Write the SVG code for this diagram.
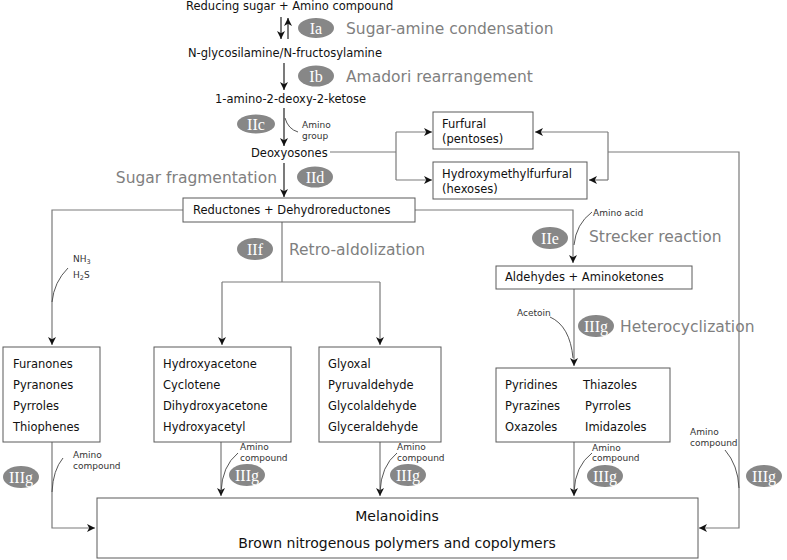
<svg xmlns="http://www.w3.org/2000/svg" width="787" height="560" viewBox="0 0 787 560">
<style>
text{font-family:"DejaVu Sans","Liberation Sans",sans-serif;fill:#111}
.t{font-size:11.5px}
.s{font-size:9px;fill:#333}
.g{font-size:15.5px;fill:#7f7f7f}
.m{font-size:14px}
.b{fill:#fff;stroke:#5a5a5a;stroke-width:1}
.e{fill:#878787}
.et{font-family:"Liberation Serif","DejaVu Serif",serif;font-size:16px;fill:#fff;text-anchor:middle}
.c{fill:none;stroke:#7a7a7a;stroke-width:1.2}
.a{marker-end:url(#ah)}
.k{fill:none;stroke:#444;stroke-width:0.9}
.dk{fill:none;stroke:#222;stroke-width:1.2}
</style>
<defs>
<marker id="ah" markerUnits="userSpaceOnUse" markerWidth="10" markerHeight="8" refX="8" refY="4" orient="auto">
<path d="M0,0 L8,4 L0,8 L2.2,4 z" fill="#111"/>
</marker>
</defs>

<g id="connectors">
<path class="dk a" d="M281,17 V39"/>
<path class="dk a" d="M288,39 V18"/>
<path class="dk a" d="M284,63 V90"/>
<path class="dk a" d="M284,108 V146"/>
<path class="k" d="M285,118 Q288,129 298,132"/>
<path class="dk a" d="M284,163 V197"/>
<path class="c" d="M330,152 H396"/>
<path class="c" d="M396,132 V180"/>
<path class="c a" d="M396,132 H432"/>
<path class="c a" d="M396,180 H432"/>
<path class="c" d="M608,132 V180"/>
<path class="c a" d="M608,132 H535"/>
<path class="c a" d="M608,180 H589"/>
<path class="c a" d="M608,152 H739 V528 H699"/>
<path class="c a" d="M183,210 H52 V345"/>
<path class="k" d="M68,268 Q54,282 52,302"/>
<path class="c a" d="M415,210 H573 V263"/>
<path class="k" d="M592,212 Q576,224 574,245"/>
<path class="c" d="M282,222 V282"/>
<path class="c" d="M222,282 H380"/>
<path class="c a" d="M222,282 V345"/>
<path class="c a" d="M380,282 V345"/>
<path class="c a" d="M574,289 V366"/>
<path class="k" d="M550,317 Q570,326 573,358"/>
<path class="c a" d="M52,442 V528 H95"/>
<path class="k" d="M63,458 Q53,470 52,492"/>
<path class="c a" d="M221,442 V496"/>
<path class="k" d="M238,453 Q222,466 221,492"/>
<path class="c a" d="M380,442 V496"/>
<path class="k" d="M397,453 Q381,466 380,492"/>
<path class="c a" d="M574,442 V496"/>
<path class="k" d="M592,453 Q575,466 574,492"/>
<path class="k" d="M725,450 Q738,465 739,488"/>
</g>

<g id="reactants"><text class="t" x="186" y="10">Reducing sugar + Amino compound</text></g>
<g id="step-Ia"><ellipse class="e" cx="316" cy="28" rx="18" ry="10"/><text class="et" x="316" y="33.5">Ia</text><text class="g" x="346" y="33.5">Sugar-amine condensation</text></g>
<g id="glycosylamine"><text class="t" x="188" y="57">N-glycosilamine/N-fructosylamine</text></g>
<g id="step-Ib"><ellipse class="e" cx="316" cy="76" rx="18" ry="10.5"/><text class="et" x="316" y="81.5">Ib</text><text class="g" x="346" y="81.5">Amadori rearrangement</text></g>
<g id="ketose"><text class="t" x="215" y="103">1-amino-2-deoxy-2-ketose</text></g>
<g id="step-IIc"><ellipse class="e" cx="256" cy="124" rx="19" ry="9.5"/><text class="et" x="256" y="129.5">IIc</text>
<text class="s" x="302" y="128">Amino</text><text class="s" x="302" y="139">group</text></g>
<g id="deoxyosones"><text class="t" x="251" y="157">Deoxyosones</text></g>
<g id="step-IId"><ellipse class="e" cx="315" cy="177" rx="18" ry="10.5"/><text class="et" x="315" y="182.5">IId</text><text class="g" x="277" y="182.5" text-anchor="end">Sugar fragmentation</text></g>
<g id="furfural"><rect class="b" x="433" y="112" width="100" height="37"/><text class="t" x="442" y="128">Furfural</text><text class="t" x="442" y="143">(pentoses)</text></g>
<g id="hmf"><rect class="b" x="433" y="162" width="154" height="37"/><text class="t" x="442" y="178">Hydroxymethylfurfural</text><text class="t" x="442" y="193">(hexoses)</text></g>
<g id="reductones"><rect class="b" x="183" y="198" width="232" height="24"/><text class="t" x="193" y="214">Reductones + Dehydroreductones</text></g>
<g id="nh3-h2s"><text class="s" x="73" y="262">NH<tspan font-size="6.5" dy="2">3</tspan></text><text class="s" x="73" y="278">H<tspan font-size="6.5" dy="2">2</tspan><tspan dy="-2">S</tspan></text></g>
<g id="step-IIf"><ellipse class="e" cx="255" cy="249" rx="18" ry="11"/><text class="et" x="255" y="254.5">IIf</text><text class="g" x="289" y="254.5">Retro-aldolization</text></g>
<g id="step-IIe"><ellipse class="e" cx="550" cy="238" rx="18" ry="11"/><text class="et" x="550" y="243.5">IIe</text><text class="g" x="589" y="241.5">Strecker reaction</text>
<text class="s" x="593" y="216">Amino acid</text></g>
<g id="aldehydes"><rect class="b" x="496" y="266" width="196" height="23"/><text class="t" x="505" y="281">Aldehydes + Aminoketones</text></g>
<g id="step-IIIg-hetero"><ellipse class="e" cx="596" cy="326" rx="18" ry="11"/><text class="et" x="596" y="331.5">IIIg</text><text class="g" x="620" y="331.5">Heterocyclization</text>
<text class="s" x="517" y="316">Acetoin</text></g>
<g id="furanones"><rect class="b" x="3" y="347" width="97" height="95"/><text class="t" x="13" y="368">Furanones</text><text class="t" x="13" y="389">Pyranones</text><text class="t" x="13" y="410">Pyrroles</text><text class="t" x="13" y="431">Thiophenes</text></g>
<g id="hydroxyacetone"><rect class="b" x="154" y="347" width="137" height="95"/><text class="t" x="163" y="368">Hydroxyacetone</text><text class="t" x="163" y="389">Cyclotene</text><text class="t" x="163" y="410">Dihydroxyacetone</text><text class="t" x="163" y="431">Hydroxyacetyl</text></g>
<g id="glyoxal"><rect class="b" x="319" y="347" width="122" height="95"/><text class="t" x="328" y="368">Glyoxal</text><text class="t" x="328" y="389">Pyruvaldehyde</text><text class="t" x="328" y="410">Glycolaldehyde</text><text class="t" x="328" y="431">Glyceraldehyde</text></g>
<g id="pyridines"><rect class="b" x="496" y="368" width="174" height="74"/><text class="t" x="505" y="389">Pyridines</text><text class="t" x="505" y="410">Pyrazines</text><text class="t" x="505" y="431">Oxazoles</text><text class="t" x="583" y="389">Thiazoles</text><text class="t" x="585" y="410">Pyrroles</text><text class="t" x="585" y="431">Imidazoles</text></g>
<g id="step-IIIg-1"><ellipse class="e" cx="21" cy="477" rx="18" ry="11"/><text class="et" x="21" y="482.5">IIIg</text><text class="s" x="73" y="458">Amino</text><text class="s" x="73" y="469">compound</text></g>
<g id="step-IIIg-2"><ellipse class="e" cx="247" cy="475" rx="18" ry="11"/><text class="et" x="247" y="480.5">IIIg</text><text class="s" x="240" y="450">Amino</text><text class="s" x="240" y="461">compound</text></g>
<g id="step-IIIg-3"><ellipse class="e" cx="408" cy="475" rx="18" ry="11"/><text class="et" x="408" y="480.5">IIIg</text><text class="s" x="397" y="450">Amino</text><text class="s" x="397" y="461">compound</text></g>
<g id="step-IIIg-4"><ellipse class="e" cx="605" cy="476" rx="18" ry="11"/><text class="et" x="605" y="481.5">IIIg</text><text class="s" x="592" y="451">Amino</text><text class="s" x="592" y="461">compound</text></g>
<g id="step-IIIg-5"><ellipse class="e" cx="764" cy="476" rx="18" ry="11"/><text class="et" x="764" y="481.5">IIIg</text><text class="s" x="690" y="435">Amino</text><text class="s" x="690" y="446">compound</text></g>
<g id="melanoidins"><rect class="b" x="97" y="498" width="601" height="60"/><text class="m" x="397" y="521" text-anchor="middle">Melanoidins</text><text class="m" x="397" y="548" text-anchor="middle">Brown nitrogenous polymers and copolymers</text></g>
</svg>
